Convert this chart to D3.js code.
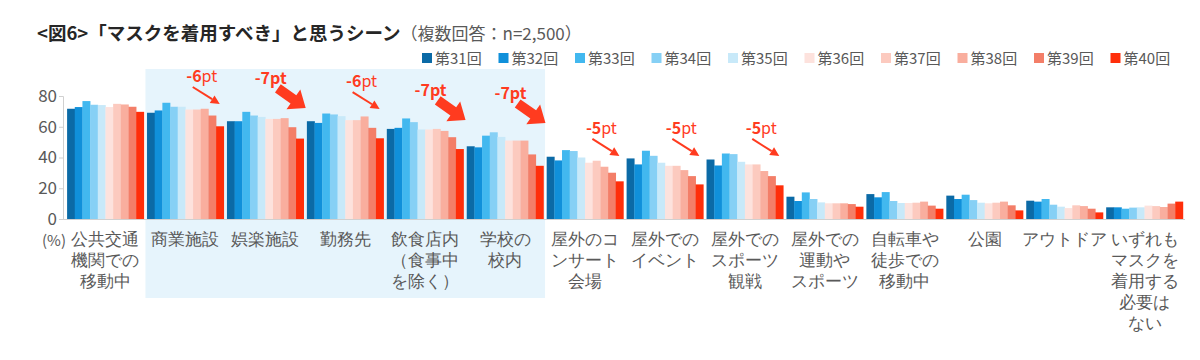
<!DOCTYPE html>
<html><head><meta charset="utf-8">
<script src="https://cdn.jsdelivr.net/npm/d3@7"></script>
<style>
html,body{margin:0;padding:0;background:#fff;}
svg{display:block;font-family:"Noto Sans CJK JP","Noto Sans",sans-serif;}
</style></head>
<body><svg id="c" width="1200" height="360"></svg>
<script>
// ---- data ----
const categories = [
  ["公共交通","機関での","移動中"],
  ["商業施設"],
  ["娯楽施設"],
  ["勤務先"],
  ["飲食店内","（食事中","を除く）"],
  ["学校の","校内"],
  ["屋外のコ","ンサート","会場"],
  ["屋外での","イベント"],
  ["屋外での","スポーツ","観戦"],
  ["屋外での","運動や","スポーツ"],
  ["自転車や","徒歩での","移動中"],
  ["公園"],
  ["アウトドア"],
  ["いずれも","マスクを","着用する","必要は","ない"]
];
const seriesNames = ["第31回","第32回","第33回","第34回","第35回","第36回","第37回","第38回","第39回","第40回"];
const r31 = [71.7,69.1,63.6,63.6,58.6,47.3,40.5,39.4,38.7,14.5,16.2,15.2,11.9,7.6];
const r32 = [72.8,70.6,63.6,62.5,59.3,46.6,38.1,35.5,34.8,11.7,14.1,13.0,11.3,7.6];
const r33 = [76.7,75.6,69.7,68.6,65.4,54.2,44.8,44.4,42.6,17.3,17.5,15.8,13.0,6.7];
const r34 = [74.3,73.0,67.3,68.0,63.0,56.4,44.2,41.1,42.2,13.0,11.7,12.3,9.3,7.4];
const r35 = [74.1,73.0,66.4,66.9,58.2,53.4,40.0,36.6,37.2,10.8,10.4,10.6,8.0,7.6];
const r36 = [72.8,71.2,65.1,64.3,58.2,51.0,36.6,34.6,35.5,10.2,10.4,10.2,7.1,8.7];
const r37 = [74.9,71.2,65.1,64.3,58.6,51.0,37.9,34.6,35.5,10.2,10.6,10.6,8.9,8.4];
const r38 = [74.5,71.7,65.6,66.7,57.3,51.0,34.0,31.8,31.2,10.2,11.3,11.3,8.4,7.8];
const r39 = [73.0,67.3,59.7,59.3,53.2,42.0,30.1,27.9,27.9,9.7,8.7,8.9,6.7,10.0];
const r40 = [69.7,60.3,52.3,52.5,45.5,34.6,24.5,22.5,21.9,8.0,6.7,5.6,4.3,11.3];
const seriesValues = [r31,r32,r33,r34,r35,r36,r37,r38,r39,r40];
const yTicks = [0,20,40,60,80];
// annotations: category index, label, arrow tip level (%), style
const annCat   = [1,2,3,4,5,6,7,8];
const annLabel = ["-6","-7","-6","-7","-7","-5","-5","-5"];
const annLevel = [74.8,72.2,71.5,64.4,62.4,41.0,41.0,41.0];
const annThick = [false,true,false,true,true,false,false,false];
const highlightFrom = 1, highlightTo = 5;

// ---- styles ----
const colors = ["#0b6aa6","#1090da","#42b8ef","#86d0f5","#c8e9f9","#fde2dd","#fccabf","#f9ae9e","#f37e68","#ff2e0a"];
const red = "#ff3b1f";
const textGrey = "#595959";

const svg = d3.select("#c");

const x = d3.scaleBand().domain(d3.range(categories.length)).range([65.5,1184.5]).paddingInner(0.04).paddingOuter(0.02);
const xs = d3.scaleBand().domain(d3.range(seriesNames.length)).range([0,x.bandwidth()]).padding(0);
const y = d3.scaleLinear().domain([0,80]).range([219,96]);

// highlight box
const step = x.step(), pad = step - x.bandwidth();
const hx0 = x(highlightFrom) - pad/2, hx1 = x(highlightTo) + x.bandwidth() + pad/2;
svg.append("rect").attr("x",hx0).attr("y",69).attr("width",hx1-hx0).attr("height",229).attr("fill","#e6f4fc");

// title
const title = svg.append("text").attr("x",37).attr("y",40).attr("fill","#262626");
title.append("tspan").attr("font-size",18.5).attr("font-weight","bold").text("<図6>「マスクを着用すべき」と思うシーン");
title.append("tspan").attr("font-size",17).attr("fill",textGrey).text("（複数回答：n=2,500）");

// legend
const lg = svg.append("g").attr("transform","translate(422,58)");
seriesNames.forEach((n,i)=>{
  const g = lg.append("g").attr("transform",`translate(${i*76.5},0)`);
  g.append("rect").attr("x",0).attr("y",-5).attr("width",10).attr("height",10).attr("fill",colors[i]);
  g.append("text").attr("x",13).attr("y",5.5).attr("font-size",15).attr("fill",textGrey).text(n);
});

// y axis
const ya = svg.append("g").attr("transform","translate(63,0)")
  .call(d3.axisLeft(y).tickValues(yTicks).tickSize(4).tickPadding(2));
ya.select(".domain").attr("stroke","#d0d0d0");
ya.selectAll(".tick line").attr("stroke","#d0d0d0");
ya.selectAll(".tick text").attr("font-size",17).attr("fill",textGrey).attr("font-family","'Noto Sans CJK JP',sans-serif");

// bars
categories.forEach((c,ci)=>{
  seriesValues.forEach((vals,si)=>{
    svg.append("rect")
      .attr("x",x(ci)+xs(si)).attr("width",xs.bandwidth()+0.3)
      .attr("y",y(vals[ci])).attr("height",y(0)-y(vals[ci]))
      .attr("fill",colors[si]);
  });
});

// x axis
const xa = svg.append("g").attr("transform",`translate(0,${y(0)})`)
  .call(d3.axisBottom(x).tickSize(0).tickFormat(""));
xa.select(".domain").attr("stroke","#d0d0d0").attr("d",`M63,0.5H1185`);
xa.selectAll(".tick").each(function(d){
  const t = d3.select(this).append("text").attr("text-anchor","middle").attr("font-size",17).attr("fill",textGrey);
  categories[d].forEach((line,li)=>{
    t.append("tspan").attr("x",0).attr("y",26+li*21).text(line);
  });
});
svg.append("text").attr("x",66).attr("y",246).attr("text-anchor","end").attr("font-size",15).attr("fill",textGrey).text("(%)");

// annotations
annCat.forEach((ci,i)=>{
  const g = svg.append("g");
  if(annThick[i]){
    const tx = x(ci)+x.bandwidth()+2, ty = y(annLevel[i]);
    const ang = Math.atan2(19,27)*180/Math.PI;
    const L=34, sw=5, hl=15, hw=12;
    g.append("polygon")
      .attr("points",[[-L,-sw],[-hl,-sw],[-hl,-hw],[0,0],[-hl,hw],[-hl,sw],[-L,sw]].map(p=>p.join(",")).join(" "))
      .attr("fill",red)
      .attr("transform",`translate(${tx},${ty}) rotate(${ang})`);
    g.append("text").attr("x",tx-35).attr("y",ty-24).attr("text-anchor","middle")
      .attr("font-size",16).attr("font-weight","bold").attr("fill",red).text(annLabel[i]+"pt");
  } else {
    const tx = x(ci)+x.bandwidth()-4, ty = y(annLevel[i]);
    const sx = tx-27, sy = ty-17;
    const ang = Math.atan2(ty-sy,tx-sx);
    const hl=9, hw=4.5;
    const bx = tx-hl*Math.cos(ang), by = ty-hl*Math.sin(ang);
    g.append("line").attr("x1",sx).attr("y1",sy).attr("x2",bx).attr("y2",by).attr("stroke",red).attr("stroke-width",2);
    g.append("polygon").attr("points",[
      [tx,ty],[bx+hw*Math.sin(ang),by-hw*Math.cos(ang)],[bx-hw*Math.sin(ang),by+hw*Math.cos(ang)]
    ].map(p=>p.join(",")).join(" ")).attr("fill",red);
    const t = g.append("text").attr("x",sx+9).attr("y",sy-5).attr("text-anchor","middle").attr("font-size",16).attr("fill",red);
    t.append("tspan").attr("font-weight","bold").text(annLabel[i]);
    t.append("tspan").text("pt");
  }
});
</script></body></html>
